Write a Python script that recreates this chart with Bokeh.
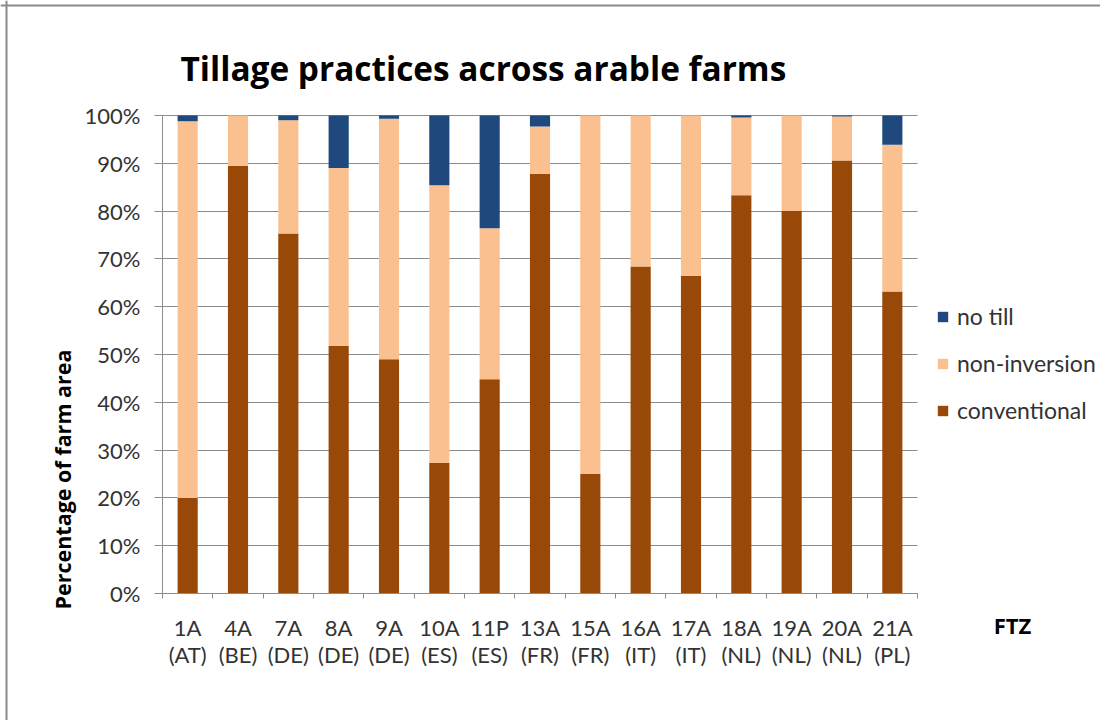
import math
from bokeh.plotting import figure
from bokeh.models import (Range1d, LinearAxis, FixedTicker, Legend, LegendItem, Label,
                          PrintfTickFormatter, ColumnDataSource, Span)
from bokeh.embed import file_html
from bokeh.resources import INLINE

# ---------------- data ----------------
zones = ["1A", "4A", "7A", "8A", "9A", "10A", "11P", "13A", "15A", "16A", "17A", "18A", "19A", "20A", "21A"]
countries = ["AT", "BE", "DE", "DE", "DE", "ES", "ES", "FR", "FR", "IT", "IT", "NL", "NL", "NL", "PL"]
conventional = [20.0, 89.5, 75.3, 51.8, 49.0, 27.3, 44.8, 87.8, 25.0, 68.4, 66.5, 83.3, 80.0, 90.6, 63.2]
non_inversion = [78.8, 10.5, 23.7, 37.2, 50.3, 58.1, 31.6, 9.9, 75.0, 31.6, 33.5, 16.3, 20.0, 9.2, 30.7]
no_till = [1.2, 0.0, 1.0, 11.0, 0.7, 14.6, 23.6, 2.3, 0.0, 0.0, 0.0, 0.4, 0.0, 0.2, 6.1]
series = ["conventional", "non_inversion", "no_till"]
series_labels = ["conventional", "non-inversion", "no till"]
colors = ["#984807", "#FAC090", "#1F497D"]
y_ticks = list(range(0, 101, 10))

title_text = "Tillage practices across arable farms"
y_title = "Percentage of farm area"
x_title = "FTZ"

# ---------------- layout (pixels on the canvas) ----------------
W, H = 1100, 720
PL, PR, PT, PB = 162, 917, 115, 593      # plot-area edges
FONT = "Lato"
BOLD_FONT = "Open Sans"
TXT = "#333333"
GRID = "#8c8c8c"

n = len(zones)
centers = [i + 0.5 for i in range(n)]
tick_labels = [f"{z}\n({c})" for z, c in zip(zones, countries)]
source = ColumnDataSource(dict(x=centers, conventional=conventional,
                               non_inversion=non_inversion, no_till=no_till))

ux = (PR - PL) / n          # px per category
uy = (PB - PT) / 100.0      # px per percent
x_range = Range1d(-PL / ux, n + (W - PR) / ux)
y_range = Range1d(-(H - PB) / uy, 100 + PT / uy)

p = figure(width=W, height=H, x_range=x_range, y_range=y_range,
           output_backend="svg", toolbar_location=None,
           x_axis_location=None, y_axis_location=None,
           min_border=0)
p.outline_line_color = None
p.background_fill_color = "white"
p.border_fill_color = "white"
p.xgrid.visible = False

renderers = p.vbar_stack(series, x="x", width=0.4, source=source, color=colors,
                         line_color=None)

# horizontal grid limited to the plot area
p.ygrid.ticker = FixedTicker(ticks=y_ticks)
p.ygrid.bounds = (0, 100)
p.ygrid.cross_bounds = (0, n)
p.ygrid.grid_line_color = GRID

# y axis
yax = LinearAxis(fixed_location=0, bounds=(0, 100),
                 ticker=FixedTicker(ticks=y_ticks),
                 formatter=PrintfTickFormatter(format="%d%%"),
                 major_tick_in=0, major_tick_out=8, minor_tick_line_color=None,
                 axis_line_color=GRID, major_tick_line_color=GRID,
                 major_label_standoff=14, major_label_text_font=FONT,
                 major_label_text_font_size="22px", major_label_text_color=TXT)
p.add_layout(yax, "left")

# x axis: labels at category centres, short ticks at category boundaries
x_axis = LinearAxis(fixed_location=0, bounds=(0, n),
                    ticker=FixedTicker(ticks=centers, minor_ticks=list(range(n + 1))),
                    major_label_overrides={c: t for c, t in zip(centers, tick_labels)},
                    major_tick_in=0, major_tick_out=0, major_tick_line_color=None,
                    minor_tick_in=0, minor_tick_out=5, minor_tick_line_color=GRID,
                    axis_line_color=GRID, major_label_standoff=15,
                    major_label_text_font=FONT, major_label_text_font_size="22px",
                    major_label_text_color=TXT, major_label_text_line_height=1.0)
p.add_layout(x_axis, "below")

# legend
items = [LegendItem(label=series_labels[i], renderers=[renderers[i]]) for i in (2, 1, 0)]
legend = Legend(items=items, location=(936, H - 424), orientation="vertical",
                glyph_width=13, glyph_height=13, label_standoff=8,
                label_height=26, spacing=19, padding=0, margin=0,
                label_text_font=FONT, label_text_font_size="23px", label_text_color=TXT,
                border_line_color=None, background_fill_alpha=0)
p.add_layout(legend, "center")

# titles
p.add_layout(Label(x=180, y=H - 67, x_units="screen", y_units="screen",
                   text=title_text, text_font=BOLD_FONT,
                   text_font_style="bold", text_font_size="33.4px", text_color="black",
                   text_align="left", text_baseline="alphabetic"))
p.add_layout(Label(x=62, y=H - 479, x_units="screen", y_units="screen",
                   text=y_title, text_font=BOLD_FONT,
                   text_font_style="bold", text_font_size="21.5px", text_color="black",
                   angle=math.pi / 2, text_align="center", text_baseline="middle"))
p.add_layout(Label(x=1012, y=H - 624, x_units="screen", y_units="screen",
                   text=x_title, text_font=BOLD_FONT,
                   text_font_style="bold", text_font_size="22px", text_color="black",
                   text_align="center", text_baseline="middle"))

# chart-area border (left and top edges visible in the reference)
p.add_layout(Span(location=6, location_units="screen", dimension="height",
                  line_color="#8a8a8a", line_width=2))
p.add_layout(Span(location=H - 5, location_units="screen", dimension="width",
                  line_color="#8a8a8a", line_width=2))

open("out.html", "w").write(file_html(p, INLINE))
